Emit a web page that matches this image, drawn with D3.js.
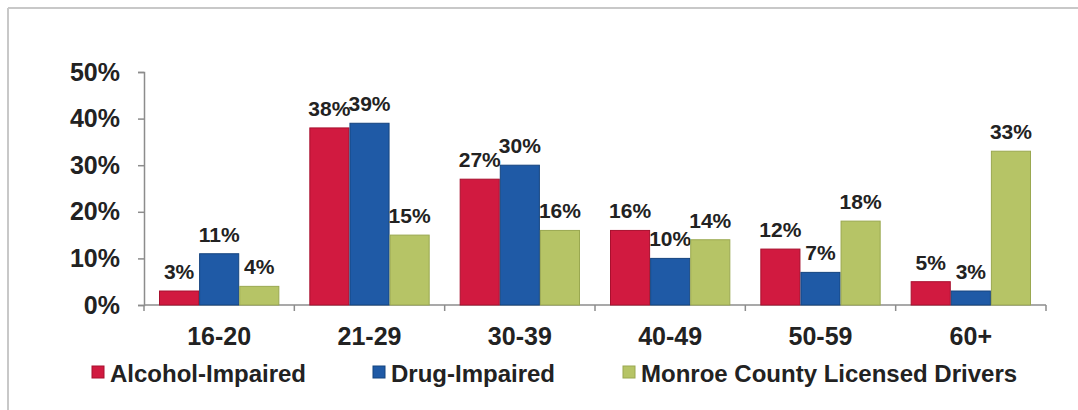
<!DOCTYPE html>
<html>
<head>
<meta charset="utf-8">
<script src="https://cdn.jsdelivr.net/npm/d3@7"></script>
<style>
  html, body { margin: 0; padding: 0; background: #fff; }
  svg { display: block; }
  text { font-family: "Liberation Sans", Arial, sans-serif; font-weight: bold; fill: #222; }
</style>
</head>
<body>
<svg id="chart" width="1078" height="410"></svg>
<script>
const categories = ["16-20", "21-29", "30-39", "40-49", "50-59", "60+"];
const seriesNames = ["Alcohol-Impaired", "Drug-Impaired", "Monroe County Licensed Drivers"];
const alcoholImpaired = [3, 38, 27, 16, 12, 5];
const drugImpaired = [11, 39, 30, 10, 7, 3];
const licensedDrivers = [4, 15, 16, 14, 18, 33];
const yTicks = [0, 10, 20, 30, 40, 50];
const colors = ["#d11a40", "#1f5aa6", "#b6c466"];
const strokes = ["#a8102e", "#15447f", "#9aa850"];

const seriesValues = [alcoholImpaired, drugImpaired, licensedDrivers];

const svg = d3.select("#chart");

// frame lines (top and left)
svg.append("line").attr("x1", 8).attr("x2", 1078).attr("y1", 8).attr("y2", 8)
  .attr("stroke", "#c8c8c8").attr("stroke-width", 2);
svg.append("line").attr("x1", 8).attr("x2", 8).attr("y1", 8).attr("y2", 410)
  .attr("stroke", "#c8c8c8").attr("stroke-width", 2);

const x0 = d3.scaleBand().domain(categories).range([144, 1046]).paddingInner(0).paddingOuter(0);
const inner = d3.scaleBand().domain(seriesNames).range([15, x0.bandwidth() - 15]).padding(0);
const y = d3.scaleLinear().domain([0, 50]).range([305, 72]);

// y axis
const yAxis = d3.axisLeft(y).tickValues(yTicks).tickFormat(d => d + "%").tickSize(6).tickPadding(18);
const gy = svg.append("g").attr("transform", "translate(144,0)").call(yAxis);
gy.select(".domain").attr("stroke", "#8c8c8c").attr("stroke-width", 1.5);
gy.selectAll(".tick line").attr("stroke", "#8c8c8c").attr("stroke-width", 1.5);
gy.selectAll(".tick text").style("font-size", "25px").attr("fill", "#222")
  .style("font-family", "'Liberation Sans', Arial, sans-serif").style("font-weight", "bold");

// x axis
const gx = svg.append("g").attr("transform", "translate(0,305)");
gx.append("line").attr("x1", 144).attr("x2", 1046).attr("stroke", "#8c8c8c").attr("stroke-width", 1.5);
const boundaries = categories.map(c => x0(c)).concat([x0(categories[categories.length - 1]) + x0.bandwidth()]);
gx.selectAll("line.tk").data(boundaries).enter().append("line").attr("class", "tk")
  .attr("x1", d => d).attr("x2", d => d).attr("y1", 0).attr("y2", 6)
  .attr("stroke", "#8c8c8c").attr("stroke-width", 1.5);
gx.selectAll("text.cat").data(categories).enter().append("text").attr("class", "cat")
  .attr("x", d => x0(d) + x0.bandwidth() / 2).attr("y", 40)
  .attr("text-anchor", "middle").style("font-size", "25px").text(d => d);

// bars
const groups = svg.selectAll("g.grp").data(categories).enter().append("g").attr("class", "grp")
  .attr("transform", d => `translate(${x0(d)},0)`);

seriesNames.forEach((s, si) => {
  groups.append("rect")
    .attr("x", (d, i) => inner(s) + 0.5)
    .attr("y", (d, i) => y(seriesValues[si][i]))
    .attr("width", inner.bandwidth() - 1)
    .attr("height", (d, i) => y(0) - y(seriesValues[si][i]))
    .attr("fill", colors[si])
    .attr("stroke", strokes[si]).attr("stroke-width", 1);
  groups.append("text")
    .attr("x", (d, i) => inner(s) + inner.bandwidth() / 2)
    .attr("y", (d, i) => y(seriesValues[si][i]) - 12)
    .attr("text-anchor", "middle")
    .style("font-size", "21px")
    .text((d, i) => seriesValues[si][i] + "%");
});

// legend
const legendX = [92, 373, 623];
const lg = svg.append("g");
seriesNames.forEach((s, si) => {
  lg.append("rect").attr("x", legendX[si]).attr("y", 366).attr("width", 12).attr("height", 12)
    .attr("fill", colors[si]).attr("stroke", strokes[si]).attr("stroke-width", 1);
  lg.append("text").attr("x", legendX[si] + 18).attr("y", 382).style("font-size", "24px").text(s);
});
</script>
</body>
</html>
